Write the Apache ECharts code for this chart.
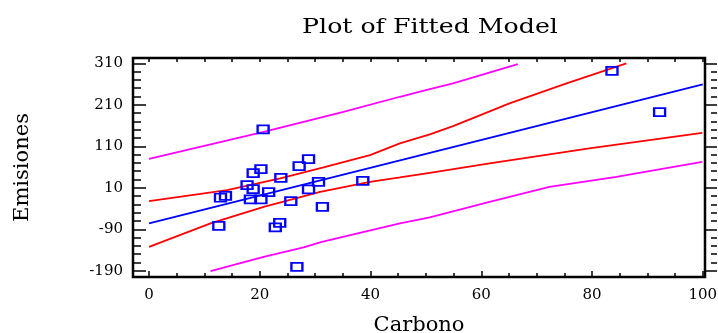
<!DOCTYPE html>
<html lang="es">
<head>
	<meta charset="utf-8" />
	<title>Plot of Fitted Model</title>
	<style>
		html, body { margin: 0; padding: 0; background: #fff; }
		#chart { width: 718px; height: 333px; }
	</style>
</head>
<body>
	<div id="chart"></div>
	<script src="https://cdn.jsdelivr.net/npm/echarts@6.0.0/dist/echarts.min.js"></script>
	<script>
		// observed points
		const carbono   = [20.6, 28.8, 27.1, 20.2, 18.8, 23.8, 17.7, 18.8, 30.6, 21.6, 28.8, 38.6, 12.9, 13.8, 18.3, 20.2, 25.6, 31.3, 12.6, 23.6, 22.8, 26.7, 83.6, 92.2];
		const emisiones = [150.8, 79.2, 62.3, 55, 45.4, 34, 16.5, 6.9, 24.5, -0.4, 6.1, 26.9, -14, -9.3, -18, -18, -22, -35.8, -81.6, -74.4, -85.5, -180.5, 292, 192.5];

		// fitted line
		const fitX = [0, 100];
		const fitY = [-75.8, 259.3];

		// confidence limits (red)
		const confUpX = [0, 14.1, 23.7, 31.5, 39.9, 45.3, 50.7, 54.9, 65.1, 75.4, 86.2];
		const confUpY = [-22.1, 4.5, 32.7, 59.2, 88.8, 117, 138.7, 158.7, 213.5, 261.7, 310];
		const confLoX = [0, 11.1, 20.7, 30.9, 39.9, 45.3, 50.7, 61.5, 79.5, 99.9];
		const confLoY = [-132.2, -75.8, -35.8, 0.4, 24.5, 35, 46.2, 68.8, 105, 142.6];

		// prediction limits (magenta)
		const predUpX = [0, 20.7, 35.1, 45.3, 50.7, 54.9, 66.6];
		const predUpY = [79.9, 145, 193.2, 229.4, 248, 261.7, 308.2];
		const predLoX = [11.1, 20.7, 27.9, 31.2, 45.3, 50.7, 61.5, 72.3, 84.4, 99.9];
		const predLoY = [-190.8, -156.3, -133.7, -120.2, -75.8, -61.4, -23.8, 12.4, 36.5, 72.7];

		// ticks
		const xMajorTicks = [0, 20, 40, 60, 80, 100];
		const xMinorTicks = [5, 10, 15, 25, 30, 35, 45, 50, 55, 65, 70, 75, 85, 90, 95];
		const xTopTicks = [0, 5, 10, 15, 20, 25, 30, 35, 40, 45, 50, 55, 60, 65, 70, 75, 80, 85, 90, 95, 100];
		const yMajorTicks = [-190, -90, 10, 110, 210, 310];
		const yMinorTicks = [-170, -150, -130, -110, -70, -50, -30, -10, 30, 50, 70, 90, 130, 150, 170, 190, 230, 250, 270, 290];

		const serif = 'DejaVu Serif';
		const zip = function (xs, ys) {
			return xs.map(function (x, i) { return [x, ys[i]]; });
		};

		const xRange = { min: -2.9, max: 100.4 };
		const yRange = { min: -205, max: 322.8 };
		const tickStyle = { color: '#000', width: 1.5 };

		// axis that only draws tick marks on one side of the frame
		const tickAxis = function (pos, range, ticks, len, offset) {
			return {
				type: 'value',
				position: pos,
				offset: offset || 0,
				min: range.min,
				max: range.max,
				axisLine: { show: false, onZero: false },
				splitLine: { show: false },
				axisTick: { show: true, inside: true, length: len, customValues: ticks, lineStyle: tickStyle },
				axisLabel: { show: false }
			};
		};

		const chart = echarts.init(document.getElementById('chart'));
		const option = {
			animation: false,
			graphic: [{
				type: 'text',
				x: 430,
				y: 38,
				scaleX: 1.2,
				style: {
					text: 'Plot of Fitted Model',
					font: '21px "DejaVu Serif"',
					fill: '#000',
					align: 'center',
					verticalAlign: 'bottom'
				}
			}],
			grid: {
				left: 133, right: 13, top: 58, bottom: 56,
				outerBoundsMode: 'none',
				show: true, borderColor: '#000', borderWidth: 2.5
			},
			xAxis: [
				{
					type: 'value',
					position: 'bottom',
					min: xRange.min,
					max: xRange.max,
					name: 'Carbono',
					nameLocation: 'middle',
					nameGap: 38,
					nameTextStyle: { fontFamily: serif, fontSize: 21, color: '#000' },
					axisLine: { show: false, onZero: false },
					splitLine: { show: false },
					axisTick: { inside: true, length: 6, customValues: xMajorTicks, lineStyle: tickStyle },
					axisLabel: { customValues: xMajorTicks, margin: 11, fontFamily: serif, fontSize: 15, color: '#000' }
				},
				tickAxis('bottom', xRange, xMinorTicks, 4),
				tickAxis('top', xRange, xTopTicks, 4)
			],
			yAxis: [
				{
					type: 'value',
					position: 'left',
					min: yRange.min,
					max: yRange.max,
					name: 'Emisiones',
					nameLocation: 'middle',
					nameGap: 100,
					nameTextStyle: { fontFamily: serif, fontSize: 21, color: '#000' },
					axisLine: { show: false, onZero: false },
					splitLine: { show: false },
					axisTick: { inside: true, length: 13, customValues: yMajorTicks, lineStyle: tickStyle },
					axisLabel: { customValues: yMajorTicks, margin: 10, fontFamily: serif, fontSize: 15, color: '#000' }
				},
				tickAxis('left', yRange, yMinorTicks, 8),
				// right-hand ticks hang off the edge of the picture, pointing back to the frame
				tickAxis('right', yRange, yMajorTicks, 12, 12),
				tickAxis('right', yRange, yMinorTicks, 6, 12)
			],
			series: [
				{ type: 'line', data: zip(predUpX, predUpY), showSymbol: false, lineStyle: { color: '#ff00ff', width: 1.8 } },
				{ type: 'line', data: zip(predLoX, predLoY), showSymbol: false, lineStyle: { color: '#ff00ff', width: 1.8 } },
				{ type: 'line', data: zip(confUpX, confUpY), showSymbol: false, lineStyle: { color: '#ff0000', width: 1.8 } },
				{ type: 'line', data: zip(confLoX, confLoY), showSymbol: false, lineStyle: { color: '#ff0000', width: 1.8 } },
				{ type: 'line', data: zip(fitX, fitY), showSymbol: false, lineStyle: { color: '#0000ff', width: 1.8 } },
				{
					type: 'scatter',
					data: zip(carbono, emisiones),
					symbol: 'rect',
					symbolSize: [11, 8],
					z: 3,
					itemStyle: { color: 'rgba(0,0,0,0)', borderColor: '#0000ff', borderWidth: 2, opacity: 1 }
				}
			]
		};
		chart.setOption(option);
	</script>
</body>
</html>
